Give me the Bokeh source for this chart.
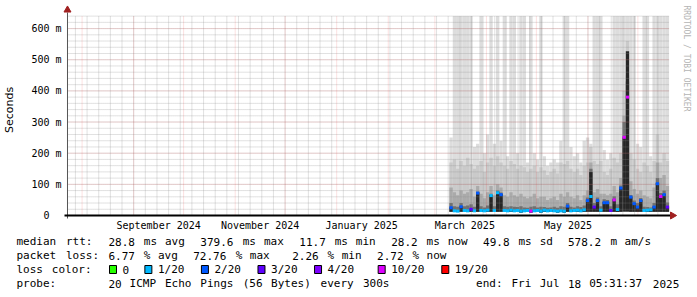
import re
import math
import pandas as pd
from bokeh.plotting import figure
from bokeh.models import Range1d, FixedTicker, ColumnDataSource
from bokeh.layouts import column
from bokeh.embed import file_html
from bokeh.resources import INLINE
from bokeh.core.properties import value

# ---------------- data ----------------
END = pd.Timestamp("2025-07-18 05:31:37")
SPAN_DAYS = 360
FIRST_STEP = "2025-03-09 18:00"
STEP_DAYS = 2

# smoke (ms): bottom of the cloud and the tops of the layers, outer (light) to inner (dark)
smoke_low = [12,11,11,12,11,11,12,11,12,11,11,11,12,11,12,12,11,11,11,11,11,10,11,11,10,11,11,10,11,11,11,11,10,11,10,12,11,11,11,11,11,12,12,12,12,11,12,12,11,12,11,12,13,13,12,12,12,12,11,11,11,12,12,12,12,12]
smoke_max = [250,640,640,640,640,640,640,220,230,640,200,260,640,230,640,240,640,190,640,640,200,640,640,170,640,200,180,640,190,160,170,180,170,240,640,640,220,190,200,170,240,250,230,640,640,640,210,180,200,640,640,640,640,640,640,640,230,220,640,640,190,640,640,640,640,640]
smoke_2 = [170,180,150,175,160,185,165,150,160,175,140,170,185,160,190,170,160,150,175,165,150,160,155,140,150,160,140,155,145,130,140,150,135,170,165,175,150,140,150,130,160,170,220,175,165,175,140,130,150,185,170,200,400,560,200,180,150,140,170,160,140,175,260,170,200,175]
smoke_3 = [90,75,65,80,70,75,85,60,95,70,55,75,95,65,100,90,65,60,75,65,60,70,60,55,60,70,55,60,60,50,55,60,50,70,60,75,60,55,65,50,65,80,170,75,85,70,70,65,70,95,75,120,320,450,110,85,70,80,65,60,55,90,170,120,130,95]
smoke_4 = [40,30,28,40,30,32,36,28,76,30,26,32,70,30,80,74,30,28,30,28,27,30,26,25,28,30,26,28,27,25,26,28,25,30,28,40,28,26,30,27,32,58,150,40,58,30,52,50,30,62,36,96,300,430,66,48,40,56,28,27,26,40,120,72,80,42]
smoke_core = [26,18,17,30,19,18,22,17,74,18,17,19,66,18,76,69,18,17,19,17,18,16,17,18,16,17,18,16,19,17,18,17,16,17,16,32,17,18,19,17,21,50,140,29,50,19,43,43,18,52,21,90,250,527,61,40,29,50,17,18,19,29,104,63,69,29]
median_rtt = [25,15,14,28,16,15,20,15,72,16,15,17,64,16,73,67,16,15,17,15,16,14,15,16,14,15,16,14,17,15,16,15,14,15,14,30,15,16,17,15,18,48,61,27,48,17,41,41,16,50,19,88,251,380,59,38,27,48,16,17,18,27,102,61,67,27]
loss_idx = [2,1,1,2,1,1,3,1,2,1,1,1,1,1,1,2,1,1,1,1,1,1,1,1,5,1,1,1,1,1,1,1,1,1,1,2,1,1,1,1,1,2,1,3,2,1,2,2,3,5,1,2,5,5,2,2,2,2,1,1,1,2,2,5,2,3]

LOSS_LABELS = ["0", "1/20", "2/20", "3/20", "4/20", "10/20", "19/20"]
LOSS_COLORS = ["#26ff00", "#00b8ff", "#0059ff", "#5e00ff", "#7e00ff", "#dd00ff", "#ff0000"]

Y_TICKS = [0, 100, 200, 300, 400, 500, 600]
Y_LABELS = ["0\u00a0\u00a0", "100 m", "200 m", "300 m", "400 m", "500 m", "600 m"]
Y_MINOR_STEP = 20
X_LABEL_DATES = ["2024-09-16", "2024-11-16", "2025-01-16", "2025-03-19", "2025-05-20"]
X_LABELS = ["September 2024", "November 2024", "January 2025", "March 2025", "May 2025"]

LINE1 = "median rtt:  28.8 ms avg  379.6 ms max  11.7 ms min  28.2 ms now  49.8 ms sd  578.2 m am/s"
LINE2 = "packet loss: 6.77 % avg  72.76 % max   2.26 % min  2.72 % now"
LINE3 = "loss color:  \u25a0 0  \u25a0 1/20  \u25a0 2/20  \u25a0 3/20  \u25a0 4/20   \u25a0 10/20  \u25a0 19/20"
LINE4 = "probe:       20 ICMP Echo Pings (56 Bytes) every 300s            end: Fri Jul 18 05:31:37 2025"
WATERMARK = "RRDTOOL / TOBI OETIKER"

# ---------------- helpers ----------------
def ms(ts):
    return float(pd.Timestamp(ts).value / 1e6)

Y_TOP = 642            # value at the top of the graph area
PLOT_W, PLOT_H = 600, 200
PX_PER_DAY = PLOT_W / SPAN_DAYS
V_PER_PX = Y_TOP / PLOT_H

def dx(px):
    return pd.Timedelta(days=px / PX_PER_DAY)

START = END - pd.Timedelta(days=SPAN_DAYS)
step_start = pd.date_range(FIRST_STEP, periods=len(smoke_max), freq=f"{STEP_DAYS}D")
step_end = step_start + pd.Timedelta(days=STEP_DAYS)

src = ColumnDataSource(dict(
    left=step_start, right=step_end, low=smoke_low,
    smax=smoke_max, s2=smoke_2, s3=smoke_3, s4=smoke_4, core=smoke_core,
    median=median_rtt, mcolor=[LOSS_COLORS[i] for i in loss_idx],
))

MONO = "DejaVu Sans Mono"

# frame covers the arrows and the watermark: graph area is 66..666 x 15..215
p = figure(width=697, height=233, x_axis_type="datetime",
           x_range=Range1d(ms(START - dx(4)), ms(END + dx(31))),
           y_range=Range1d(-4 * V_PER_PX, Y_TOP + 15 * V_PER_PX),
           output_backend="svg", toolbar_location=None,
           min_border_left=62, min_border_right=0, min_border_top=0, min_border_bottom=14)
p.frame_align = False
p.outline_line_color = None
p.background_fill_color = "white"
p.border_fill_color = "white"
p.xgrid.visible = False
p.ygrid.visible = False

# smoke
for key, col in zip(["smax", "s2", "s3", "s4", "core"],
                    ["#dddddd", "#cacaca", "#aaaaaa", "#707070", "#262626"]):
    p.quad(left="left", right="right", bottom="low", top=key, source=src,
           fill_color=col, line_color=None)

# grid lines (rrdtool draws them over the smoke)
weeks = [ms(t) for t in pd.date_range("2024-07-28", END, freq="7D")]
months = [ms(t) for t in pd.date_range("2024-08-01", END, freq="MS")]
minor_y = list(range(Y_MINOR_STEP, Y_TOP, Y_MINOR_STEP))
major_y = Y_TICKS[1:]
gx0, gx1 = ms(START), ms(END + dx(3))
MINOR = dict(line_color="#8c8c8c", line_alpha=0.5, line_dash="1 1", line_width=1, level="guide")
MAJOR = dict(line_color="#e83030", line_alpha=0.28, line_dash="1 1", line_width=1, level="guide")
p.segment(x0=weeks, x1=weeks, y0=[0] * len(weeks), y1=[Y_TOP] * len(weeks), **MINOR)
p.segment(x0=[gx0] * len(minor_y), x1=[gx1] * len(minor_y), y0=minor_y, y1=minor_y, **MINOR)
p.segment(x0=months, x1=months, y0=[0] * len(months), y1=[Y_TOP] * len(months), **MAJOR)
p.segment(x0=[gx0] * len(major_y), x1=[gx1] * len(major_y), y0=major_y, y1=major_y, **MAJOR)

# median line coloured by loss
p.segment(x0="left", x1="right", y0="median", y1="median", source=src,
          line_color="mcolor", line_width=3, level="annotation")

# axis lines and arrows
ARROW = "#a02020"
p.segment(x0=[ms(START)], x1=[ms(START)], y0=[-3 * V_PER_PX], y1=[Y_TOP + 3 * V_PER_PX],
          line_color="#555555", line_width=1, level="annotation")
p.segment(x0=[ms(START - dx(3))], x1=[ms(END + dx(4))], y0=[0], y1=[0],
          line_color="#000000", line_width=2, level="annotation")
p.scatter(x=[ms(END + dx(6))], y=[0], marker="triangle", angle=-math.pi / 2, size=7,
          fill_color=ARROW, line_color=ARROW, level="annotation")
p.scatter(x=[ms(START)], y=[Y_TOP + 5.5 * V_PER_PX], marker="triangle", size=7,
          fill_color=ARROW, line_color=ARROW, level="annotation")

# watermark
p.text(x=[ms(END + dx(20))], y=[Y_TOP + 10 * V_PER_PX], text=[WATERMARK], angle=-math.pi / 2,
       text_align="left", text_baseline="middle", text_font=value(MONO),
       text_font_size="8px", text_color="#b4b4b4")

# axes (labels only)
p.yaxis.ticker = FixedTicker(ticks=Y_TICKS)
p.yaxis.major_label_overrides = dict(zip(Y_TICKS, Y_LABELS))
p.yaxis.major_label_text_font = MONO
p.yaxis.major_label_text_font_size = "10px"
p.yaxis.major_label_text_color = "#000000"
p.yaxis.major_label_standoff = 2
p.yaxis.major_tick_out = 0
p.yaxis.major_tick_in = 0
p.yaxis.minor_tick_out = 0
p.yaxis.minor_tick_in = 0
p.yaxis.axis_line_color = None
p.yaxis.axis_label = "Seconds"
p.yaxis.axis_label_text_font = "DejaVu Sans"
p.yaxis.axis_label_text_font_size = "11px"
p.yaxis.axis_label_text_font_style = "normal"
p.yaxis.axis_label_text_color = "#000000"
p.yaxis.axis_label_standoff = 12

xl = [ms(d) for d in X_LABEL_DATES]
p.xaxis.ticker = FixedTicker(ticks=xl)
p.xaxis.major_label_overrides = dict(zip(xl, X_LABELS))
p.xaxis.major_label_text_font = MONO
p.xaxis.major_label_text_font_size = "10px"
p.xaxis.major_label_text_color = "#000000"
p.xaxis.major_label_standoff = 0
p.xaxis.major_tick_out = 0
p.xaxis.major_tick_in = 0
p.xaxis.minor_tick_out = 0
p.xaxis.minor_tick_in = 0
p.xaxis.axis_line_color = None

# ---------------- legend block ----------------
q = figure(width=697, height=64, x_range=Range1d(0, 697), y_range=Range1d(64, 0),
           output_backend="svg", toolbar_location=None, min_border=0,
           x_axis_location=None, y_axis_location=None)
q.frame_align = False
q.outline_line_color = None
q.grid.visible = False

CW = 7.07
X0 = 16
tx, ty, tt = [], [], []
sx, sy = [], []
for yy, line in zip([8, 22, 36, 50], [LINE1, LINE2, LINE3, LINE4]):
    for m in re.finditer(r"\S+", line):
        if m.group() == "\u25a0":
            sx.append(X0 + m.start() * CW + 4.6)
            sy.append(yy)
        else:
            tx.append(X0 + m.start() * CW)
            ty.append(yy)
            tt.append(m.group())
q.text(x=tx, y=ty, text=tt, text_font=value(MONO), text_font_size="11px",
       text_baseline="middle", text_align="left", text_color="#000000")
q.rect(x=sx, y=sy, width=7, height=8, fill_color=LOSS_COLORS, line_color="#000000", line_width=1)

layout = column(p, q, spacing=0)
open("out.html", "w").write(file_html(layout, INLINE))
